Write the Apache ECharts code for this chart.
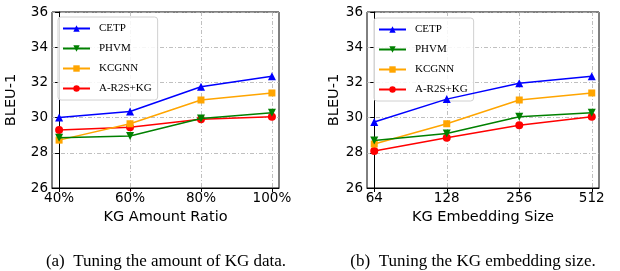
<!DOCTYPE html>
<html>
<head>
<meta charset="utf-8">
<script src="https://cdn.jsdelivr.net/npm/echarts@6/dist/echarts.min.js"></script>
<style>
  html, body { margin: 0; padding: 0; background: #fff; }
  #chart { width: 620px; height: 271px; }
</style>
</head>
<body>
<div id="chart"></div>
<script>
// data
const seriesNames = ['CETP', 'PHVM', 'KCGNN', 'A-R2S+KG'];
const ratioLabels = ['40%', '60%', '80%', '100%'];
const embLabels = ['64', '128', '256', '512'];
const yTicks = [26, 28, 30, 32, 34, 36];

const ratioCETP = [30.0, 30.35, 31.75, 32.35];
const ratioPHVM = [28.85, 28.95, 29.95, 30.28];
const ratioKCGNN = [28.72, 29.65, 31.0, 31.4];
const ratioAR2S = [29.3, 29.45, 29.9, 30.05];

const embCETP = [29.75, 31.05, 31.95, 32.35];
const embPHVM = [28.7, 29.1, 30.05, 30.28];
const embKCGNN = [28.5, 29.65, 31.0, 31.4];
const embAR2S = [28.1, 28.85, 29.57, 30.05];

const colors = ['#0000ff', '#008000', '#ffa500', '#ff0000'];
const symbols = ['triangle', 'path://M0,0L10,0L5,10Z', 'rect', 'circle'];

const chart = echarts.init(document.getElementById('chart'));

const gridLine = { show: true, lineStyle: { color: '#b0b0b0', type: [4, 2, 1, 2], width: 0.8 } };

function xAxis(gridIndex, labels, name) {
  return {
    type: 'value', gridIndex: gridIndex, min: -0.1, max: 3.1,
    name: name, nameLocation: 'middle', nameGap: 22,
    nameTextStyle: { fontFamily: 'DejaVu Sans', fontSize: 14.5, color: '#000' },
    axisLine: { show: true, lineStyle: { color: '#000', width: 1 } },
    axisTick: { show: true, customValues: [0, 1, 2, 3], length: 4, inside: false, lineStyle: { color: '#000' } },
    axisLabel: {
      customValues: [0, 1, 2, 3], margin: 3,
      fontFamily: 'DejaVu Sans', fontSize: 13.5, color: '#000',
      formatter: v => labels[Math.round(v)]
    },
    splitLine: gridLine
  };
}

function yAxis(gridIndex, nameGap) {
  return {
    type: 'value', gridIndex: gridIndex, min: yTicks[0], max: yTicks[yTicks.length - 1], interval: 2,
    name: 'BLEU-1', nameLocation: 'middle', nameGap: nameGap, nameRotate: 90,
    nameTextStyle: { fontFamily: 'DejaVu Sans', fontSize: 14.5, color: '#000' },
    axisLine: { show: true, lineStyle: { color: '#000', width: 1 } },
    axisTick: { show: true, length: 4, lineStyle: { color: '#000' } },
    axisLabel: { margin: 4, fontFamily: 'DejaVu Sans', fontSize: 13.5, color: '#000' },
    splitLine: gridLine
  };
}

function lines(idx, sets) {
  return sets.map((vals, i) => ({
    name: seriesNames[i], type: 'line', xAxisIndex: idx, yAxisIndex: idx,
    data: vals.map((v, j) => [j, v]),
    symbol: symbols[i], symbolSize: i === 2 ? 7 : 8, showSymbol: true,
    itemStyle: { color: colors[i] },
    lineStyle: { color: colors[i], width: 1.5 },
    z: 10 - i
  }));
}

function legend(left, top) {
  return {
    orient: 'vertical', left: left, top: top,
    data: seriesNames,
    itemWidth: 27, itemHeight: 8, itemGap: 9,
    padding: [6, 6, 6, 4],
    borderColor: '#d0d0d0', borderWidth: 1, borderRadius: 3,
    backgroundColor: 'rgba(255,255,255,0.85)',
    textStyle: { fontFamily: 'Liberation Serif', fontSize: 11, color: '#000', padding: [0, 0, 0, 4] }
  };
}

chart.setOption({
  animation: false,
  grid: [
    { left: 52, top: 12, width: 227, height: 176, show: true, borderColor: '#000', borderWidth: 1 },
    { left: 367, top: 12, width: 232, height: 176, show: true, borderColor: '#000', borderWidth: 1 }
  ],
  legend: [legend(58, 17), legend(374, 18)],
  title: [
    { text: '(a)  Tuning the amount of KG data.', left: 161, top: 248, textAlign: 'center',
      textStyle: { fontFamily: 'Liberation Serif', fontSize: 17, fontWeight: 'normal', color: '#000' } },
    { text: '(b)  Tuning the KG embedding size.', left: 468, top: 248, textAlign: 'center',
      textStyle: { fontFamily: 'Liberation Serif', fontSize: 17, fontWeight: 'normal', color: '#000' } }
  ],
  xAxis: [xAxis(0, ratioLabels, 'KG Amount Ratio'), xAxis(1, embLabels, 'KG Embedding Size')],
  yAxis: [yAxis(0, 33), yAxis(1, 25)],
  series: lines(0, [ratioCETP, ratioPHVM, ratioKCGNN, ratioAR2S])
    .concat(lines(1, [embCETP, embPHVM, embKCGNN, embAR2S]))
});
</script>
</body>
</html>
